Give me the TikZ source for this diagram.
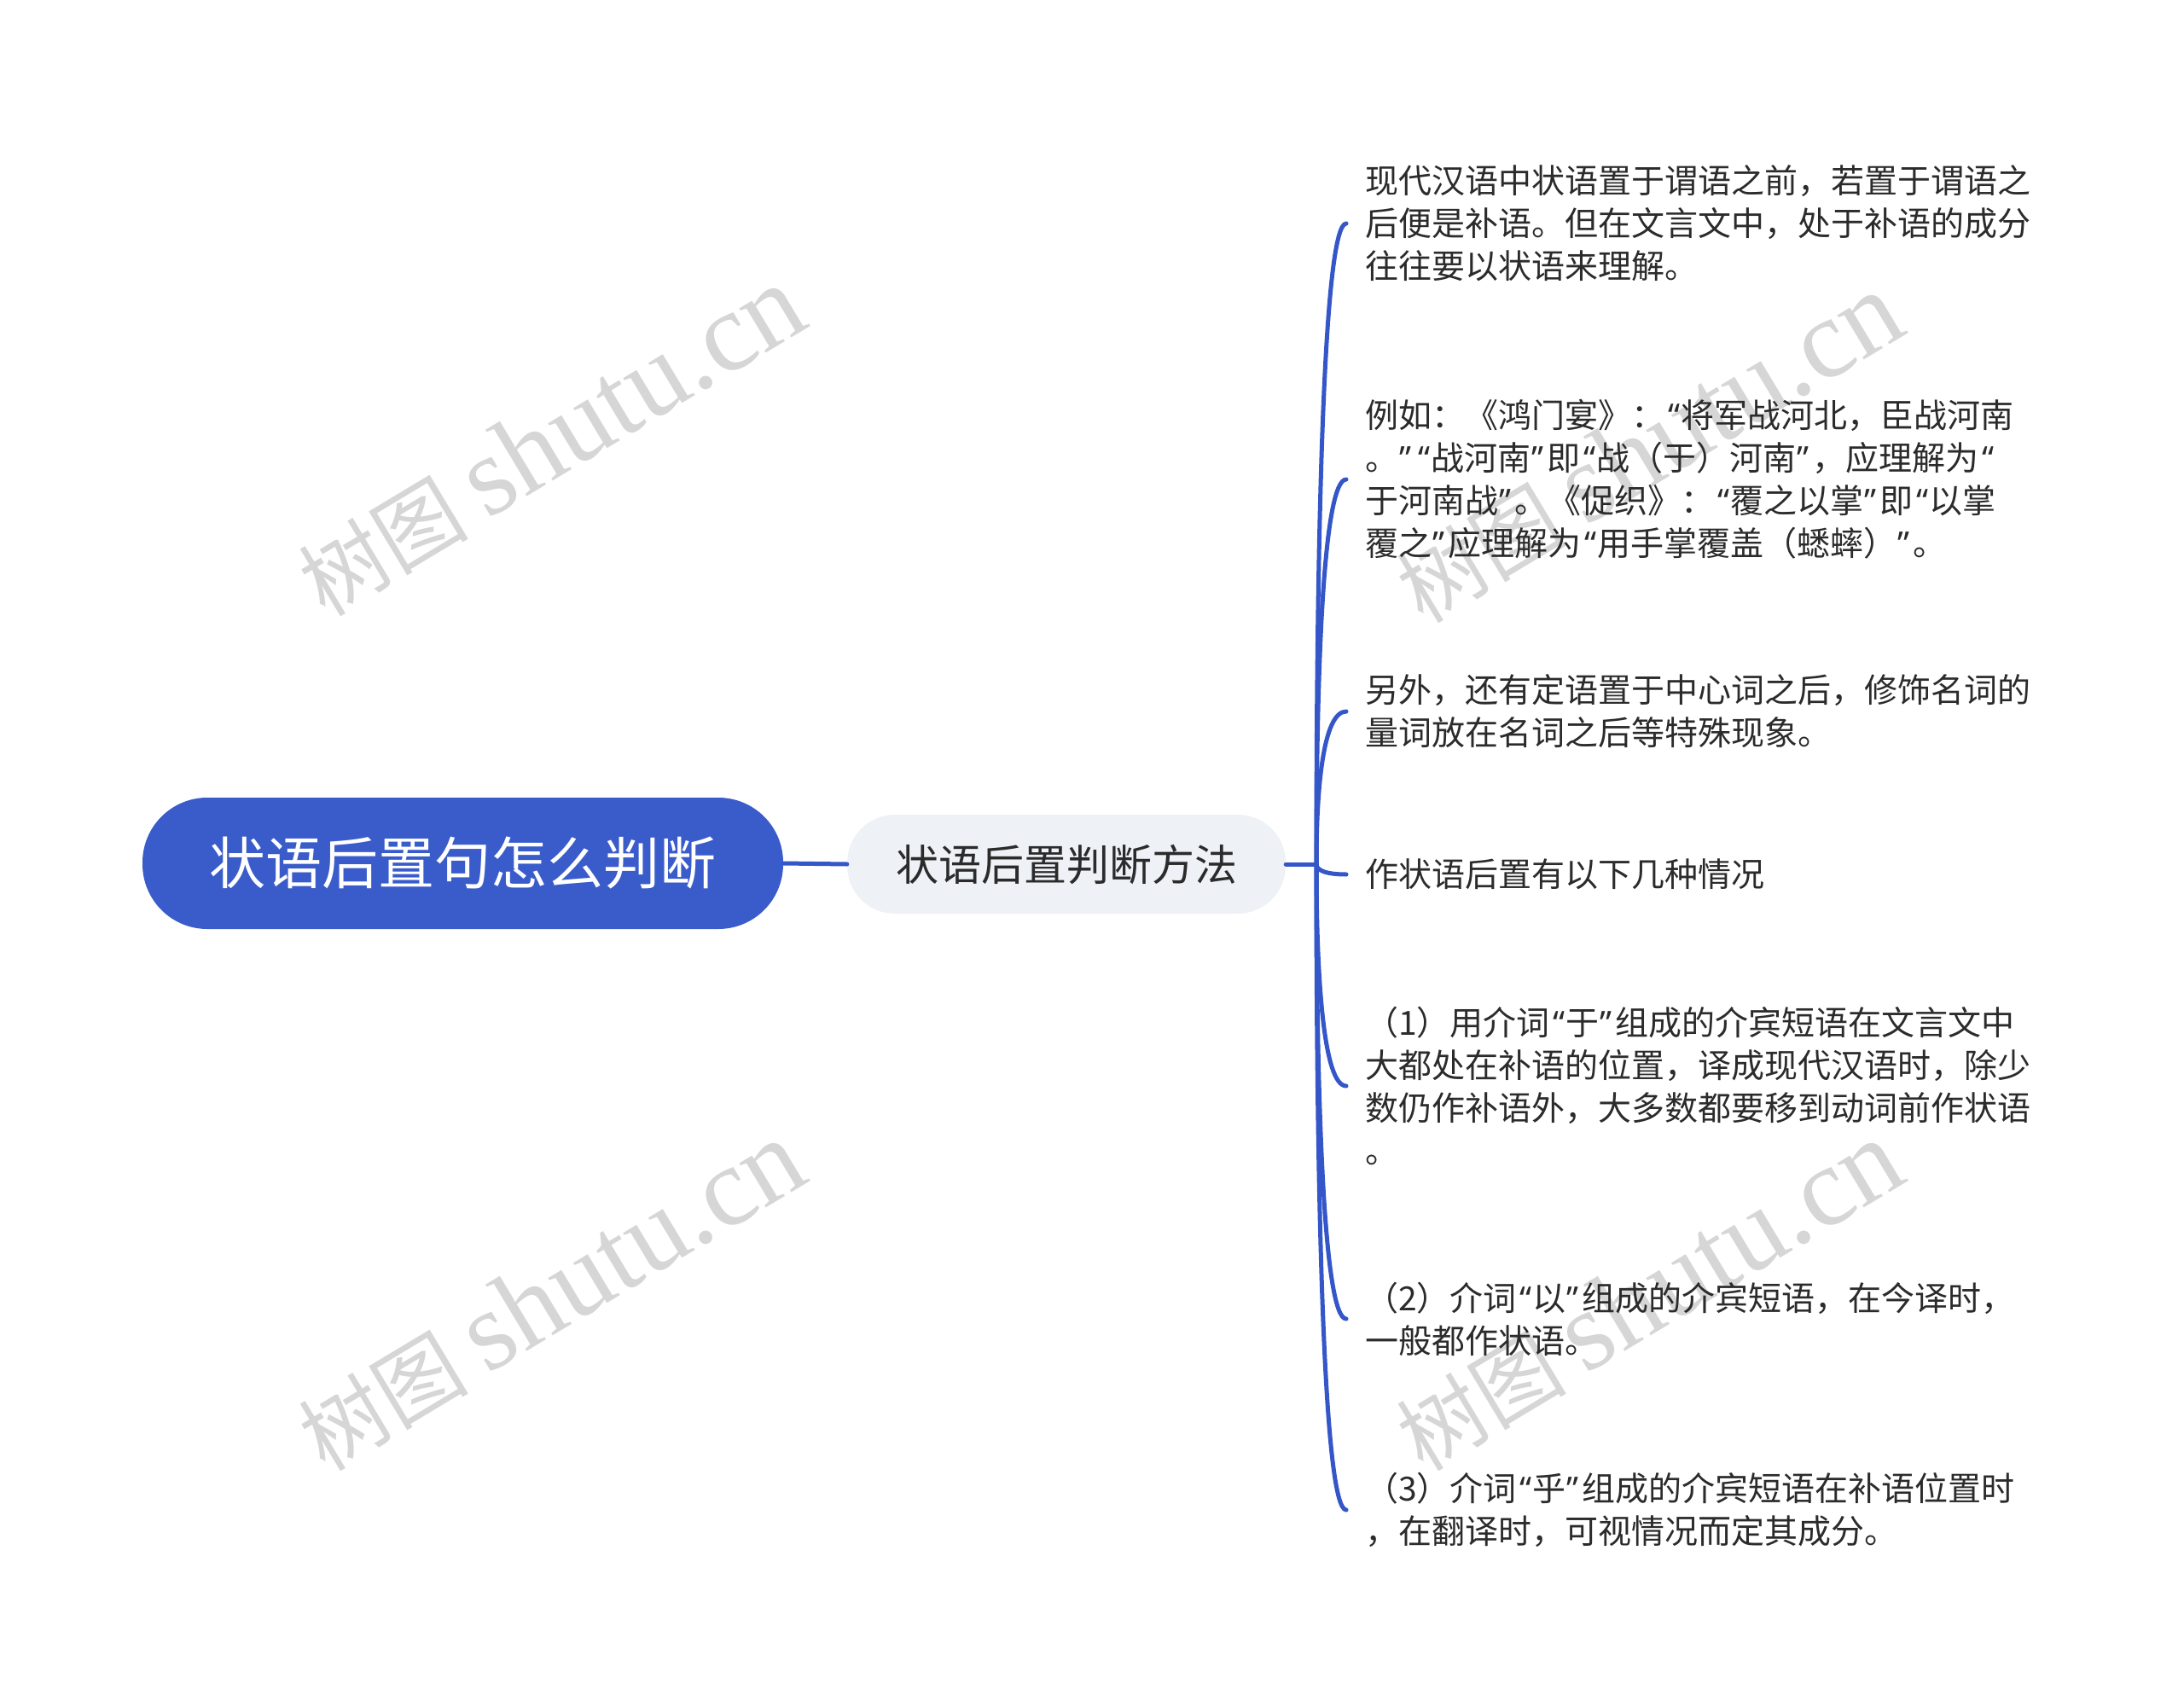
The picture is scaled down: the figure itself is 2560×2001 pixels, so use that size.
\documentclass[tikz,border=0pt]{standalone}
\usepackage{fontspec}
\setmainfont{Noto Sans CJK SC}
\newfontfamily\wmlatin{Liberation Serif}
\newfontfamily\qfont{Noto Sans}
\newcommand{\ql}{{\kern4pt\qfont “\kern1pt}}
\newcommand{\qr}{{\kern1pt\qfont ”\kern4pt}}
\usetikzlibrary{calc}
\definecolor{mainblue}{HTML}{3A5CCB}
\definecolor{linkblue}{HTML}{3456C8}
\definecolor{childfill}{HTML}{EEF1F5}
\definecolor{txtdark}{HTML}{2B2B2B}
\definecolor{wmgray}{HTML}{D6D6D6}
\tikzset{
  rootbox/.style={fill=mainblue, text=white, rounded corners=76pt, minimum width=751pt, minimum height=154pt, inner sep=0pt, font=\fontsize{66}{70}\selectfont},
  childbox/.style={fill=childfill, text=txtdark, rounded corners=56pt, minimum width=514pt, minimum height=116pt, inner sep=0pt, font=\fontsize{50}{56}\selectfont},
  leafbox/.style={anchor=west, text=txtdark, align=left, inner xsep=22pt, inner ysep=0pt, font=\fontsize{39}{50}\selectfont},
  link/.style={draw=linkblue, line width=5pt, line cap=round},
  wmark/.style={text=wmgray, rotate=31, font=\fontsize{100}{120}\selectfont}
}
\newcommand{\wmtext}{树图 {\wmlatin\fontsize{132}{140}\selectfont shutu.cn}}
\newcommand{\branchto}[1]{\draw[link] (hub) .. controls ($(hub)!0.5!(hub |- #1.west)$) and ($(#1.west)+(-27,0)$) .. (#1.west);}
\begin{document}
\begin{tikzpicture}[x=1pt,y=-1pt]
\useasboundingbox (0,0) rectangle (2560,2001);
% watermarks
\node[wmark] (wm1) at (645,517) {\wmtext};
\node[wmark] (wm2) at (645,1519) {\wmtext};
\node[wmark] (wm3) at (1932,525) {\wmtext};
\node[wmark] (wm4) at (1932,1519) {\wmtext};
% nodes
\node[rootbox] (root) at (542.5,1012) {状语后置句怎么判断};
\node[childbox] (child) at (1250,1013) {状语后置判断方法};
\coordinate (hub) at (1543,1013);
\node[leafbox] (l1) at (1578,262) {现代汉语中状语置于谓语之前，若置于谓语之\\后便是补语。但在文言文中，处于补语的成分\\往往要以状语来理解。};
\node[leafbox] (l2) at (1578,562) {例如：《鸿门宴》：\ql 将军战河北，臣战河南\\。\qr\ql 战河南\qr 即\ql 战（于）河南\qr ，应理解为\ql\\于河南战\qr 。《促织》：\ql 覆之以掌\qr 即\ql 以掌\\覆之\qr 应理解为\ql 用手掌覆盖（蟋蟀）\qr 。};
\node[leafbox] (l3) at (1578,834) {另外，还有定语置于中心词之后，修饰名词的\\量词放在名词之后等特殊现象。};
\node[leafbox] (l4) at (1578,1025) {作状语后置有以下几种情况};
\node[leafbox] (l5) at (1578,1273) {（1）用介词\ql 于\qr 组成的介宾短语在文言文中\\大都处在补语的位置，译成现代汉语时，除少\\数仍作补语外，大多数都要移到动词前作状语\\。};
\node[leafbox] (l6) at (1578,1546) {（2）介词\ql 以\qr 组成的介宾短语，在今译时，\\一般都作状语。};
\node[leafbox] (l7) at (1578,1770) {（3）介词\ql 乎\qr 组成的介宾短语在补语位置时\\，在翻译时，可视情况而定其成分。};
% connectors
\draw[link] (root.east) -- (child.west);
\draw[link] (child.east) -- (hub);
\branchto{l1}
\branchto{l2}
\branchto{l3}
\branchto{l4}
\branchto{l5}
\branchto{l6}
\branchto{l7}
\end{tikzpicture}
\end{document}
